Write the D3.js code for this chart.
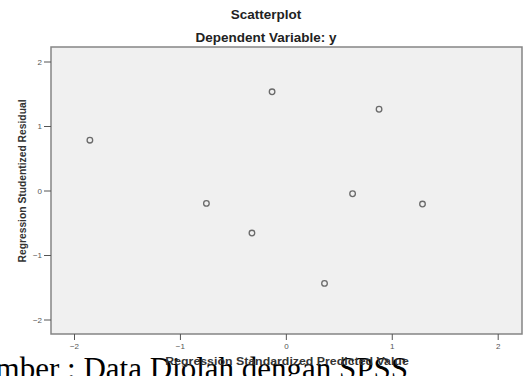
<!DOCTYPE html>
<html><head><meta charset="utf-8">
<script src="https://cdn.jsdelivr.net/npm/d3@7/dist/d3.min.js"></script>
<style>body{margin:0;background:#fff;overflow:hidden;}svg{display:block;}</style>
</head><body>
<script>
const predicted = [-1.85, -0.75, -0.32, -0.13, 0.365, 0.63, 0.88, 1.29];
const residual  = [0.78, -0.20, -0.66, 1.53, -1.44, -0.05, 1.26, -0.21];
const xTicks = [-2, -1, 0, 1, 2];
const yTicks = [-2, -1, 0, 1, 2];
const titleText = "Scatterplot";
const subtitleText = "Dependent Variable: y";
const xLabel = "Regression Standardized Predicted Value";
const yLabel = "Regression Studentized Residual";
const captionText = "Sumber : Data Diolah dengan SPSS";

const W = 525, H = 376;
const svg = d3.select("body").append("svg").attr("width", W).attr("height", H);
const L = 51, R = 522, T = 47, B = 334;
const x = d3.scaleLinear().domain([-2, 2]).range([74, 497.7]);
const y = d3.scaleLinear().domain([-2, 2]).range([319.5, 61.5]);

// caption (drawn first: the axis title sits on top of it in the reference)
svg.append("text").attr("x", 408).attr("y", 378.5).attr("text-anchor", "end")
  .attr("font-family", "Liberation Serif, Times New Roman, serif").attr("font-size", 31)
  .attr("fill", "#000").text(captionText);

svg.append("rect").attr("x", L).attr("y", T).attr("width", R - L).attr("height", B - T)
  .attr("fill", "#f0f0f0").attr("stroke", "#858585").attr("stroke-width", 1.5);

const font = "Liberation Sans, Arial, sans-serif";

const gx = svg.append("g").attr("transform", `translate(0,${B})`)
  .call(d3.axisBottom(x).tickValues(xTicks).tickSize(6).tickPadding(3).tickFormat(d3.format("d")));
const gy = svg.append("g").attr("transform", `translate(${L},0)`)
  .call(d3.axisLeft(y).tickValues(yTicks).tickSize(7).tickPadding(2).tickFormat(d3.format("d")));
[gx, gy].forEach(g => {
  g.select(".domain").remove();
  g.selectAll(".tick line").attr("stroke", "#555").attr("stroke-width", 1);
  g.selectAll(".tick text").attr("fill", "#555").attr("font-size", 8).attr("font-family", font);
});

svg.append("g").selectAll("circle").data(predicted).join("circle")
  .attr("cx", d => x(d)).attr("cy", (d, i) => y(residual[i])).attr("r", 2.8)
  .attr("fill", "none").attr("stroke", "#6a6a6a").attr("stroke-width", 1.3);

function htext(txt, cx, by, size, sx, color) {
  svg.append("text").attr("transform", `translate(${cx},${by}) scale(${sx},1)`)
    .attr("text-anchor", "middle").attr("font-family", font).attr("font-weight", "bold")
    .attr("font-size", size).attr("fill", color).text(txt);
}
htext(titleText, 266, 18.5, 12.5, 1.08, "#222");
htext(subtitleText, 266, 42, 12.5, 1.08, "#222");
htext(xLabel, 287, 365, 10.3, 1.2, "#333");

svg.append("text").attr("transform", `translate(26,181) rotate(-90)`)
  .attr("text-anchor", "middle").attr("font-family", font).attr("font-weight", "bold")
  .attr("font-size", 10.3).attr("fill", "#333").text(yLabel);
</script>
</body></html>
